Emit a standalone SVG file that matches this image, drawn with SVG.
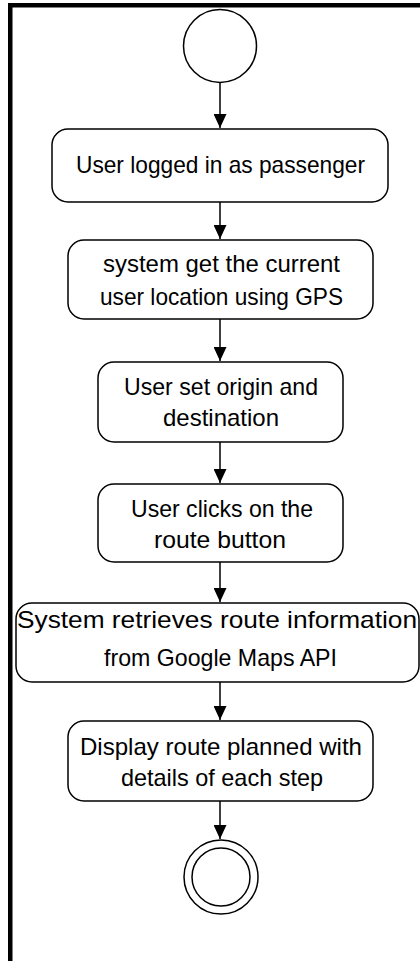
<svg xmlns="http://www.w3.org/2000/svg" width="420" height="961" viewBox="0 0 420 961">
  <style>
    .frame { fill: #000; }
    .node { fill: #fff; stroke: #000; stroke-width: 1.5; }
    .label { font-family: "Liberation Sans", Arial, sans-serif; font-size: 24px; fill: #000; text-anchor: middle; }
    .edge { stroke: #000; stroke-width: 1.5; fill: none; marker-end: url(#arrow); }
  </style>
  <defs>
    <marker id="arrow" markerUnits="userSpaceOnUse" markerWidth="14" markerHeight="13" refX="14" refY="6.5" orient="auto">
      <path d="M0,0 L14,6.5 L0,13 Z" fill="#000"/>
    </marker>
  </defs>

  <rect width="420" height="961" fill="#fff"/>
  <!-- frame edges (top and left) -->
  <rect class="frame" x="8" y="3" width="412" height="4.5"/>
  <rect class="frame" x="8" y="3" width="4.5" height="958"/>

  <g id="start">
    <circle class="node" cx="220" cy="46" r="36.5"/>
  </g>

  <g id="logged-in">
    <rect class="node" x="52" y="129" width="336" height="73" rx="16"/>
    <text class="label" x="220.5" y="173" textLength="289" lengthAdjust="spacingAndGlyphs">User logged in as passenger</text>
  </g>

  <g id="get-location">
    <rect class="node" x="68" y="240" width="305" height="79" rx="16"/>
    <text class="label" x="221.5" y="272" textLength="237" lengthAdjust="spacingAndGlyphs">system get the current</text>
    <text class="label" x="221.5" y="305" textLength="243" lengthAdjust="spacingAndGlyphs">user location using GPS</text>
  </g>

  <g id="set-origin">
    <rect class="node" x="98" y="362" width="245" height="80" rx="16"/>
    <text class="label" x="221" y="395" textLength="194" lengthAdjust="spacingAndGlyphs">User set origin and</text>
    <text class="label" x="221" y="426" textLength="116" lengthAdjust="spacingAndGlyphs">destination</text>
  </g>

  <g id="click-route">
    <rect class="node" x="98" y="484" width="245" height="78" rx="16"/>
    <text class="label" x="222" y="517" textLength="182" lengthAdjust="spacingAndGlyphs">User clicks on the</text>
    <text class="label" x="220" y="548" textLength="132" lengthAdjust="spacingAndGlyphs">route button</text>
  </g>

  <g id="retrieve-route">
    <rect class="node" x="16" y="603" width="403" height="79" rx="16"/>
    <text class="label" x="217" y="628" textLength="400" lengthAdjust="spacingAndGlyphs">System retrieves route information</text>
    <text class="label" x="220.5" y="666" textLength="233" lengthAdjust="spacingAndGlyphs">from Google Maps API</text>
  </g>

  <g id="display-route">
    <rect class="node" x="68" y="721" width="305" height="80" rx="16"/>
    <text class="label" x="221" y="755" textLength="282" lengthAdjust="spacingAndGlyphs">Display route planned with</text>
    <text class="label" x="222" y="786" textLength="202" lengthAdjust="spacingAndGlyphs">details of each step</text>
  </g>

  <g id="end">
    <circle class="node" cx="221" cy="877" r="37"/>
    <circle class="node" cx="221" cy="877" r="29"/>
  </g>

  <g id="connectors">
    <line class="edge" x1="220" y1="82.5" x2="220" y2="128"/>
    <line class="edge" x1="220" y1="202" x2="220" y2="239"/>
    <line class="edge" x1="220" y1="319" x2="220" y2="361"/>
    <line class="edge" x1="220" y1="442" x2="220" y2="483"/>
    <line class="edge" x1="220" y1="562" x2="220" y2="602"/>
    <line class="edge" x1="220" y1="682" x2="220" y2="720"/>
    <line class="edge" x1="220" y1="801" x2="220" y2="839"/>
  </g>
</svg>
